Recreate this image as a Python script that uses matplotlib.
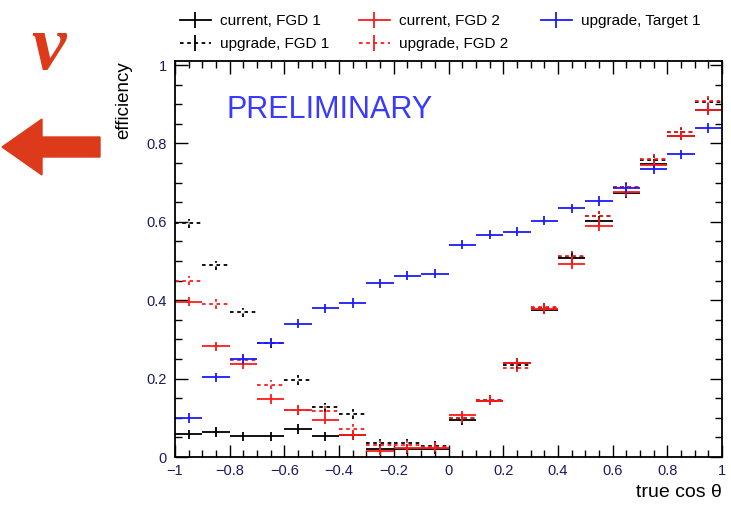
import numpy as np
import matplotlib
matplotlib.use("Agg")
import matplotlib.pyplot as plt
import matplotlib.patches as patches
from matplotlib.lines import Line2D
from matplotlib.ticker import MultipleLocator, FuncFormatter
from matplotlib.transforms import IdentityTransform

plt.rcParams['font.family'] = ['Liberation Sans', 'DejaVu Sans']

# bin centres of true cos theta, 20 bins of 0.1
cos_bins = np.arange(-0.95, 1.0, 0.1)

current_fgd1 = [0.058, 0.064, 0.053, 0.053, 0.072, 0.053, 0.055, 0.02, 0.02, 0.02,
                0.094, 0.144, 0.241, 0.376, 0.507, 0.602, 0.673, 0.747, 0.82, 0.885]
current_fgd2 = [0.396, 0.282, 0.237, 0.148, 0.119, 0.095, 0.056, 0.016, 0.022, 0.024,
                0.106, 0.144, 0.241, 0.378, 0.492, 0.589, 0.676, 0.744, 0.82, 0.885]
upgrade_target1 = [0.10, 0.203, 0.25, 0.292, 0.34, 0.379, 0.393, 0.443, 0.463, 0.468,
                   0.542, 0.567, 0.575, 0.603, 0.634, 0.653, 0.686, 0.734, 0.772, 0.839]
upgrade_fgd1 = [0.596, 0.489, 0.369, 0.29, 0.197, 0.127, 0.11, 0.035, 0.035, 0.028,
                0.10, 0.145, 0.235, 0.38, 0.51, 0.615, 0.688, 0.758, 0.828, 0.905]
upgrade_fgd2 = [0.45, 0.39, 0.248, 0.185, 0.12, 0.118, 0.072, 0.03, 0.03, 0.026,
                0.10, 0.145, 0.228, 0.382, 0.514, 0.615, 0.689, 0.76, 0.83, 0.908]

series = [
    ("current, FGD 1", current_fgd1, "black", "-"),
    ("upgrade, FGD 1", upgrade_fgd1, "black", (0, (2, 2))),
    ("current, FGD 2", current_fgd2, "#ff1a1a", "-"),
    ("upgrade, FGD 2", upgrade_fgd2, "#ff1a1a", (0, (2, 2))),
    ("upgrade, Target 1", upgrade_target1, "#1a1aff", "-"),
]

fig = plt.figure(figsize=(7.31, 5.05), dpi=100)
ax = fig.add_axes([0.2394, 0.095, 0.7483, 0.784])

handles = []
for label, vals, col, ls in series:
    eb = ax.errorbar(cos_bins, vals, xerr=0.05, yerr=0.012, fmt='none',
                     ecolor=col, elinewidth=1.3, capsize=0, label=label)
    for lc in eb.lines[2]:
        lc.set_linestyle(ls)
    handles.append(Line2D([], [], color=col, ls=ls, lw=1.3, marker='|',
                          markersize=11, markeredgewidth=1.3, label=label))

ax.set_xlim(-1, 1)
ax.set_ylim(0, 1.01)
ax.xaxis.set_major_locator(MultipleLocator(0.2))
ax.xaxis.set_minor_locator(MultipleLocator(0.05))
ax.yaxis.set_major_locator(MultipleLocator(0.2))
ax.yaxis.set_minor_locator(MultipleLocator(0.05))


def root_fmt(v, pos):
    if abs(v) < 1e-9:
        return "0"
    if abs(abs(v) - 1) < 1e-9:
        return "\u22121" if v < 0 else "1"
    s = f"{v:.1f}"
    return s.replace("-", "\u2212")


ax.xaxis.set_major_formatter(FuncFormatter(root_fmt))
ax.yaxis.set_major_formatter(FuncFormatter(root_fmt))
ax.tick_params(which='both', direction='in', top=True, right=True,
               labelsize=10.5, labelcolor='#1a1a60')
ax.tick_params(which='major', length=9, width=1)
ax.tick_params(which='minor', length=5, width=1)
ax.tick_params(axis='x', pad=5)
ax.tick_params(axis='y', pad=6)
for sp in ax.spines.values():
    sp.set_linewidth(1.3)

ax.set_xlabel("true cos \u03b8", fontsize=14, ha='right', x=1.0)
ax.set_ylabel("efficiency", fontsize=13.5, ha='right', y=1.0)
ax.yaxis.set_label_coords(-0.078, 1.0)

ax.text(-0.81, 0.885, "PRELIMINARY", fontsize=22, color='#3a3aff',
        va='center', ha='left')

# legend in three fixed columns, like the ROOT one
col_x = [180, 359, 541]
col_groups = [handles[0:2], handles[2:4], handles[4:5]]
for x0, grp in zip(col_x, col_groups):
    leg = fig.legend(handles=grp, loc='upper left',
                     bbox_to_anchor=(x0 / 731, 1 - 14 / 505),
                     frameon=False, fontsize=11, handlelength=2.0,
                     labelspacing=0.6, handletextpad=0.6,
                     borderpad=0, borderaxespad=0)

# neutrino direction arrow on the left
arrow = patches.FancyArrow(100, 505 - 147, -98, 0, width=20, head_width=56,
                           head_length=40, length_includes_head=True,
                           color='#dc3a1a', transform=IdentityTransform())
fig.patches.append(arrow)
fig.text(0.066, 0.9, "\u03bd", fontsize=56, color='#dc3a1a', family='Liberation Serif',
         style='italic', weight='bold', ha='center', va='center')

fig.savefig("out.png", dpi=100)
